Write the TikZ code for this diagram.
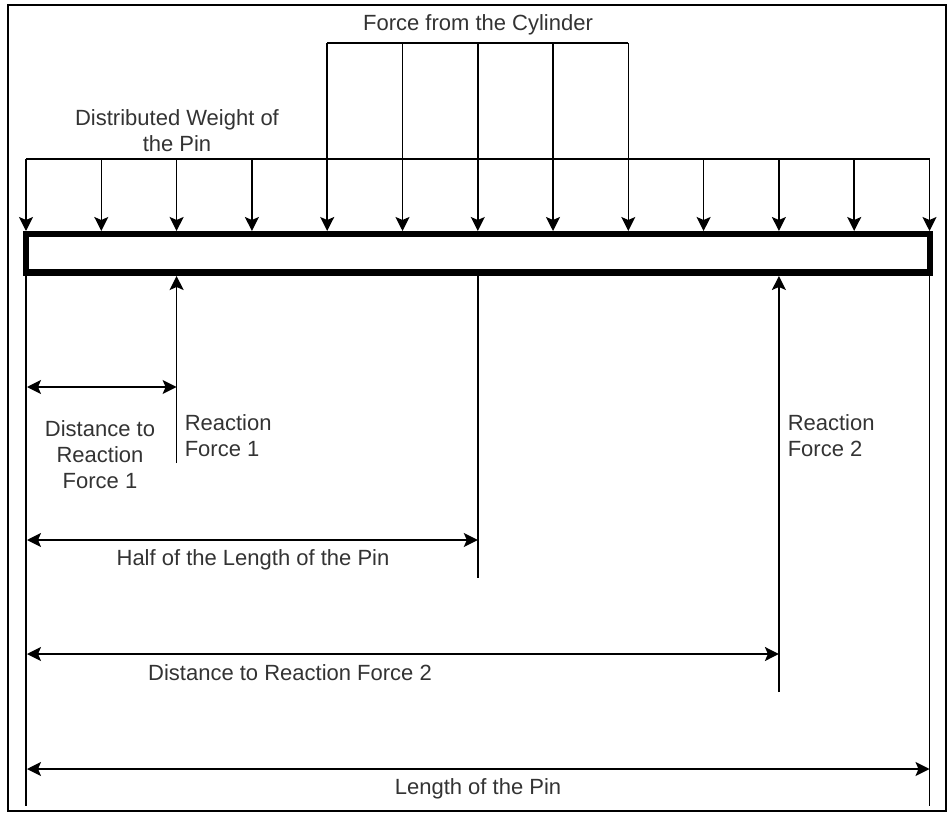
\documentclass[tikz,border=0pt]{standalone}
\usepackage{fontspec}
\setmainfont{Liberation Sans}
\usetikzlibrary{arrows.meta}
\tikzset{
 load/.style={-{Stealth[length=14pt,width=14pt,inset=3pt]}},
 dim/.style={{Stealth[length=14pt,width=14pt,inset=3pt]}-{Stealth[length=14pt,width=14pt,inset=3pt]}},
 lbl/.style={text=black!80,align=center,inner sep=0pt},
}

\begin{document}
\begin{tikzpicture}[x=1pt,y=-1pt,line width=1.5pt,font=\fontsize{22}{26}\selectfont]
 \useasboundingbox (0,0) rectangle (948,813);
 \draw[line width=2.5pt] (8,5) rectangle (946,811);
 % the pin
 \draw[line width=6pt] (26,234) rectangle (929.5,272.5);
 % distributed weight
 \draw (26,159) -- (929.5,159);
 \draw[load] (26,159) -- (26,231);
 \draw[load] (101.3,159) -- (101.3,231);
 \draw[load] (176.6,159) -- (176.6,231);
 \draw[load] (251.9,159) -- (251.9,231);
 \draw[load] (703.6,159) -- (703.6,231);
 \draw[load] (778.9,159) -- (778.9,231);
 \draw[load] (854.2,159) -- (854.2,231);
 \draw[load] (929.5,159) -- (929.5,231);
 \node[lbl] (weight) at (177,131) {Distributed Weight of\\the Pin};
 % cylinder
 \draw (327.2,43) -- (628.3,43);
 \draw[load] (327.2,43) -- (327.2,231);
 \draw[load] (402.5,43) -- (402.5,231);
 \draw[load] (477.8,43) -- (477.8,231);
 \draw[load] (553,43) -- (553,231);
 \draw[load] (628.3,43) -- (628.3,231);
 \node[lbl] (cyl) at (478,25) {Force from the Cylinder};
 % reactions
 \draw[load] (176.6,463) -- (176.6,276);
 \node[lbl,align=left,anchor=west] (rf1) at (184,436) {Reaction\\Force 1};
 \draw[load] (778.9,692) -- (778.9,276);
 \node[lbl,align=left,anchor=west] (rf2) at (787,436) {Reaction\\Force 2};
 % dimensions
 \draw (26,273) -- (26,806);
 \draw (929.5,273) -- (929.5,806);
 \draw (477.8,273) -- (477.8,578);
 \draw[dim] (27,387) -- (176.6,387);
 \node[lbl] (d1) at (100,455) {Distance to\\Reaction\\Force 1};
 \draw[dim] (27,540) -- (477.8,540);
 \node[lbl] (half) at (253,560) {Half of the Length of the Pin};
 \draw[dim] (27,654) -- (778.9,654);
 \node[lbl] (d2) at (290,673) {Distance to Reaction Force 2};
 \draw[dim] (27,769) -- (929.5,769);
 \node[lbl] (len) at (478,789) {Length of the Pin};
\end{tikzpicture}
\end{document}
